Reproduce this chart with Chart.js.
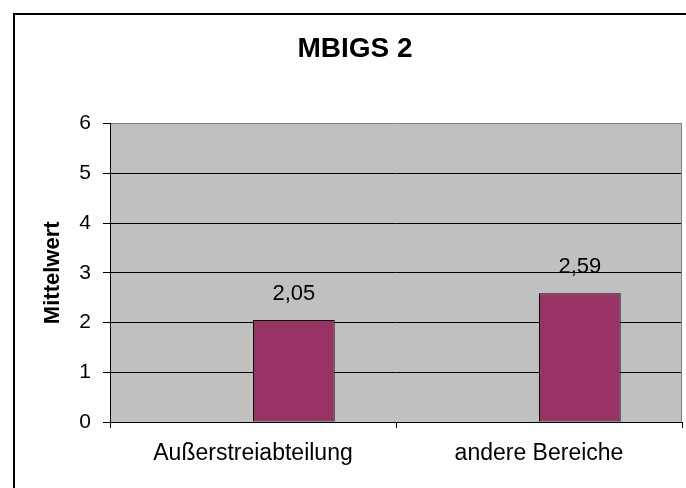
<!DOCTYPE html>
<html>
<head>
<meta charset="utf-8">
<title>MBIGS 2</title>
<script src="https://cdn.jsdelivr.net/npm/chart.js@4.4.1/dist/chart.umd.min.js"></script>
<style>
  html, body { margin: 0; padding: 0; background: #fff; }
  canvas { display: block; }
</style>
</head>
<body>
<canvas id="chart" width="686" height="488"></canvas>
<script>
const chartTitle = 'MBIGS 2';
const yAxisTitle = 'Mittelwert';
const categories = ['Außerstreiabteilung', 'andere Bereiche'];
// Reihe 1 ist leer, deshalb sitzen die Balken rechts der Kategoriemitte
const emptySeries = [null, null];
const meanValues = [2.05, 2.59];
const yTicks = [0, 1, 2, 3, 4, 5, 6];

const FONT = 'Arial, "Liberation Sans", sans-serif';

// Hintergrund, Rahmen und graue Zeichenfläche
const frame = {
  id: 'frame',
  beforeDraw(chart) {
    const { ctx, chartArea: a } = chart;
    ctx.save();
    ctx.fillStyle = '#ffffff';
    ctx.fillRect(0, 0, chart.width, chart.height);
    ctx.strokeStyle = '#000';
    ctx.lineWidth = 2;
    ctx.strokeRect(14, 14, chart.width + 20, chart.height + 20);
    ctx.fillStyle = '#c0c0c0';
    ctx.fillRect(a.left, a.top, a.right - a.left, a.bottom - a.top);
    ctx.restore();
  },
  beforeDatasetsDraw(chart) {
    const { ctx, chartArea: a } = chart;
    ctx.save();
    ctx.strokeStyle = '#808080';
    ctx.lineWidth = 1;
    ctx.beginPath();
    ctx.moveTo(Math.round(a.right) - 0.5, a.top);
    ctx.lineTo(Math.round(a.right) - 0.5, a.bottom);
    ctx.stroke();
    ctx.restore();
  }
};

// Werte über den Balken (deutsches Komma)
const valueLabels = {
  id: 'valueLabels',
  afterDatasetsDraw(chart) {
    const { ctx } = chart;
    ctx.save();
    ctx.font = '22px ' + FONT;
    ctx.fillStyle = '#000';
    ctx.textAlign = 'center';
    ctx.textBaseline = 'middle';
    chart.data.datasets.forEach((ds, i) => {
      chart.getDatasetMeta(i).data.forEach((bar, j) => {
        const v = ds.data[j];
        if (v == null) return;
        ctx.fillText(v.toFixed(2).replace('.', ','), bar.x, bar.y - 26);
      });
    });
    ctx.restore();
  }
};

new Chart(document.getElementById('chart'), {
  type: 'bar',
  data: {
    labels: categories,
    datasets: [
      {
        label: 'Reihe 1',
        data: emptySeries,
        backgroundColor: '#9999ff',
        borderColor: '#000',
        borderWidth: 1,
      },
      {
        label: yAxisTitle,
        data: meanValues,
        backgroundColor: '#993366',
        borderColor: '#000',
        borderWidth: 1,
        borderSkipped: false,
      },
    ],
  },
  options: {
    responsive: false,
    animation: false,
    events: [],
    layout: { padding: { left: 28, right: 4, top: 0, bottom: 0 } },
    datasets: {
      bar: { categoryPercentage: 2 / 3.5, barPercentage: 1 },
    },
    scales: {
      x: {
        afterFit: (s) => { s.height = 66; },
        grid: { drawOnChartArea: false, offset: true, tickLength: 6, tickColor: '#000' },
        border: { color: '#000', width: 1 },
        ticks: { color: '#000', padding: 12, font: { family: FONT, size: 23 } },
      },
      y: {
        min: 0,
        max: 6,
        afterBuildTicks: (s) => { s.ticks = yTicks.map((v) => ({ value: v })); },
        afterFit: (s) => { s.width = 82; },
        grid: {
          color: (c) => (c.tick && c.tick.value === 6 ? '#808080' : '#000'),
          tickColor: '#000',
          tickLength: 7,
          lineWidth: 1,
        },
        border: { color: '#000', width: 1 },
        ticks: { color: '#000', padding: 12, font: { family: FONT, size: 21 } },
        title: {
          display: true,
          text: yAxisTitle,
          color: '#000',
          font: { family: FONT, size: 22, weight: 'bold' },
          padding: { top: 12, bottom: 0 },
        },
      },
    },
    plugins: {
      legend: { display: false },
      tooltip: { enabled: false },
      title: {
        display: true,
        text: chartTitle,
        color: '#000',
        font: { family: FONT, size: 28, weight: 'bold' },
        padding: { top: 32, bottom: 58 },
      },
    },
  },
  plugins: [frame, valueLabels],
});
</script>
</body>
</html>
